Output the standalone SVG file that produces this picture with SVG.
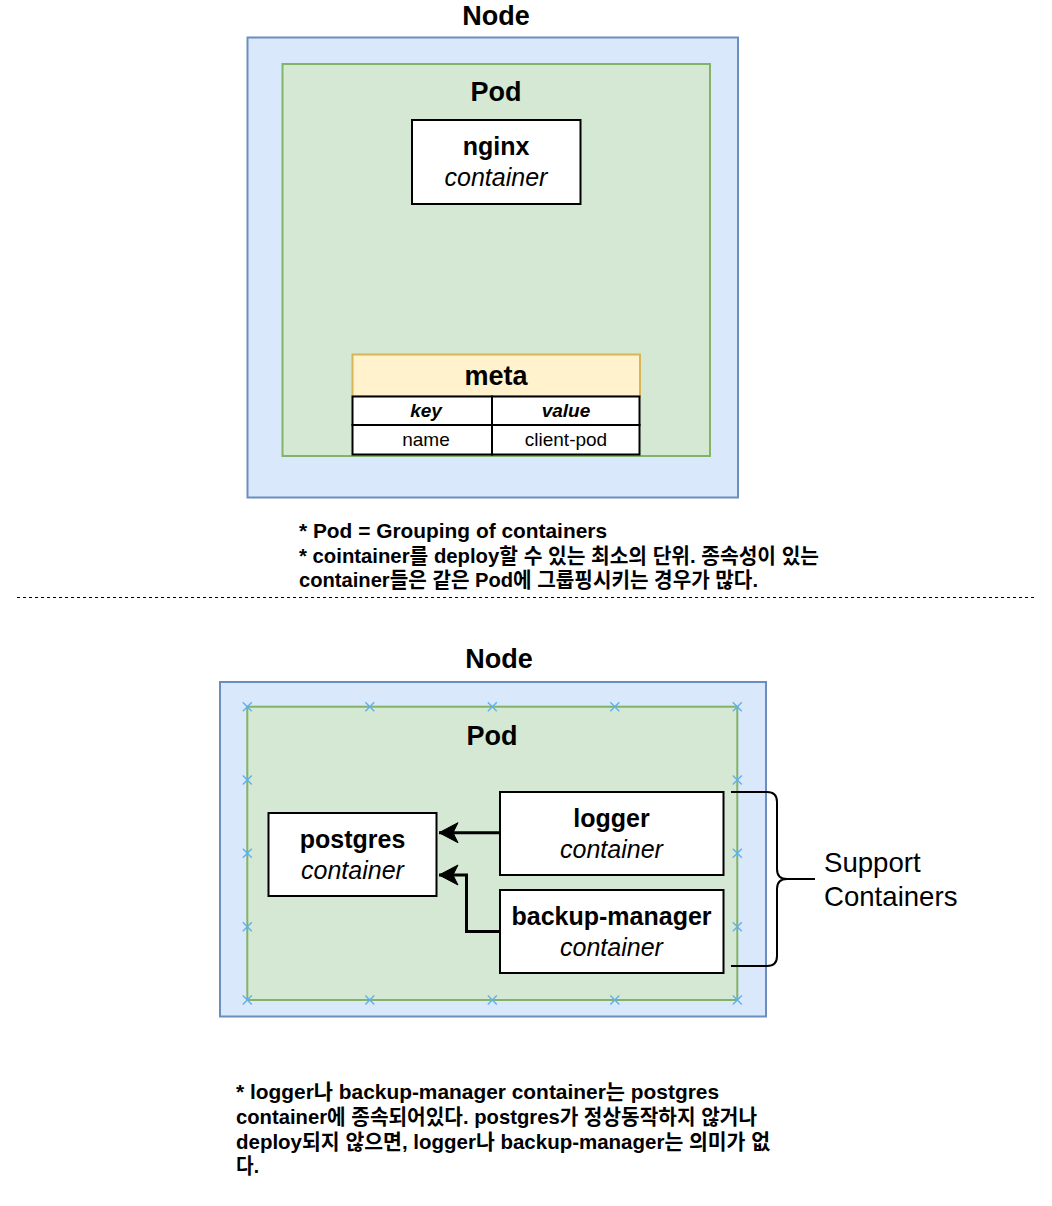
<svg xmlns="http://www.w3.org/2000/svg" width="1052" height="1206" viewBox="0 0 1052 1206">
<style>
  text { font-family: "Liberation Sans", "Noto Sans CJK KR", Arial, sans-serif; fill: #000; }
  .title { font-size: 27px; font-weight: bold; text-anchor: middle; }
  .cname { font-size: 25px; font-weight: bold; text-anchor: middle; }
  .ctype { font-size: 25px; font-style: italic; text-anchor: middle; }
  .cell { font-size: 19px; text-anchor: middle; }
  .hcell { font-size: 19px; font-weight: bold; font-style: italic; text-anchor: middle; }
  .note { font-size: 21px; font-weight: bold; }
  .plain { font-size: 27.6px; }
  .node { fill: #dae8fc; stroke: #6c8ebf; stroke-width: 2; }
  .pod { fill: #d5e8d4; stroke: #82b366; stroke-width: 2; }
  .box { fill: #ffffff; stroke: #000000; stroke-width: 2; }
  .conn { fill: none; stroke: #000; stroke-width: 3; }
  .pt { fill: none; stroke: #5eb0ef; stroke-width: 1.4; }
</style>
<defs>
  <marker id="arrow" markerUnits="userSpaceOnUse" markerWidth="22" markerHeight="24" viewBox="0 0 22 24" refX="20" refY="12" orient="auto">
    <path d="M20,12 L1,2 L6,12 L1,22 Z" fill="#000" stroke="#000" stroke-width="1"/>
  </marker>
  <path id="x" class="pt" d="M-4.5,-4.5 L4.5,4.5 M-4.5,4.5 L4.5,-4.5"/>
</defs>

<!-- Top section -->
<g id="node1">
  <rect class="node" x="247.5" y="37.5" width="490.5" height="460"/>
  <text class="title" x="496" y="25">Node</text>
</g>
<g id="pod1">
  <rect class="pod" x="282.5" y="64" width="427.5" height="392"/>
  <text class="title" x="496" y="100.5">Pod</text>
</g>
<g id="nginx">
  <rect class="box" x="412" y="120" width="168.5" height="84"/>
  <text class="cname" x="496" y="155">nginx</text>
  <text class="ctype" x="496" y="185.5">container</text>
</g>
<g id="meta">
  <rect x="352.5" y="354.5" width="287.5" height="42" fill="#fff2cc" stroke="#d6b656" stroke-width="2"/>
  <text class="title" x="496" y="385">meta</text>
  <rect class="box" x="352.5" y="396.5" width="139.5" height="28.5"/>
  <rect class="box" x="492" y="396.5" width="147.5" height="28.5"/>
  <rect class="box" x="352.5" y="425" width="139.5" height="29.5"/>
  <rect class="box" x="492" y="425" width="147.5" height="29.5"/>
  <text class="hcell" x="426" y="417">key</text>
  <text class="hcell" x="566" y="417">value</text>
  <text class="cell" x="426" y="446">name</text>
  <text class="cell" x="566" y="446">client-pod</text>
</g>
<g id="note1">
  <text class="note" x="299" y="538" textLength="308" lengthAdjust="spacingAndGlyphs">* Pod = Grouping of containers</text>
  <text class="note" x="299" y="562.5" textLength="520" lengthAdjust="spacingAndGlyphs">* cointainer를 deploy할 수 있는 최소의 단위. 종속성이 있는</text>
  <text class="note" x="299" y="587" textLength="459" lengthAdjust="spacingAndGlyphs">container들은 같은 Pod에 그룹핑시키는 경우가 많다.</text>
</g>

<g id="separator">
  <line x1="17" y1="597.5" x2="1037" y2="597.5" stroke="#000" stroke-width="1" stroke-dasharray="3 3"/>
</g>

<!-- Bottom section -->
<g id="node2">
  <rect class="node" x="220" y="682" width="546" height="334.5"/>
  <text class="title" x="499" y="668">Node</text>
</g>
<g id="pod2">
  <rect class="pod" x="247.3" y="706.7" width="490" height="293.3"/>
  <text class="title" x="492" y="745">Pod</text>
  <use href="#x" x="247.3" y="706.7"/>
  <use href="#x" x="369.8" y="706.7"/>
  <use href="#x" x="492.3" y="706.7"/>
  <use href="#x" x="614.8" y="706.7"/>
  <use href="#x" x="737.3" y="706.7"/>
  <use href="#x" x="247.3" y="1000"/>
  <use href="#x" x="369.8" y="1000"/>
  <use href="#x" x="492.3" y="1000"/>
  <use href="#x" x="614.8" y="1000"/>
  <use href="#x" x="737.3" y="1000"/>
  <use href="#x" x="247.3" y="780"/>
  <use href="#x" x="247.3" y="853.3"/>
  <use href="#x" x="247.3" y="926.7"/>
  <use href="#x" x="737.3" y="780"/>
  <use href="#x" x="737.3" y="853.3"/>
  <use href="#x" x="737.3" y="926.7"/>
</g>
<g id="postgres">
  <rect class="box" x="268.5" y="813" width="168" height="83"/>
  <text class="cname" x="352.5" y="848">postgres</text>
  <text class="ctype" x="352.5" y="879">container</text>
</g>
<g id="logger">
  <rect class="box" x="500" y="792" width="223.5" height="83"/>
  <text class="cname" x="611.5" y="827">logger</text>
  <text class="ctype" x="611.5" y="858">container</text>
</g>
<g id="backup-manager">
  <rect class="box" x="500" y="890" width="223.5" height="83"/>
  <text class="cname" x="611.5" y="925">backup-manager</text>
  <text class="ctype" x="611.5" y="956">container</text>
</g>
<g id="connectors">
  <path class="conn" d="M499,832.7 H439" marker-end="url(#arrow)"/>
  <path class="conn" d="M499,931.5 H466.5 V875 H439" marker-end="url(#arrow)"/>
  <path d="M731,792 H767 Q777,792 777,802 V869 Q777,879 787,879 H815 M787,879 Q777,879 777,889 V956 Q777,966 767,966 H731" fill="none" stroke="#000" stroke-width="2"/>
</g>
<g id="support-label">
  <text class="plain" x="824" y="872">Support</text>
  <text class="plain" x="824" y="906">Containers</text>
</g>
<g id="note2">
  <text class="note" x="236" y="1099" textLength="483" lengthAdjust="spacingAndGlyphs">* logger나 backup-manager container는 postgres</text>
  <text class="note" x="236" y="1124" textLength="521" lengthAdjust="spacingAndGlyphs">container에 종속되어있다. postgres가 정상동작하지 않거나</text>
  <text class="note" x="236" y="1148.5" textLength="534" lengthAdjust="spacingAndGlyphs">deploy되지 않으면, logger나 backup-manager는 의미가 없</text>
  <text class="note" x="236" y="1173" textLength="23" lengthAdjust="spacingAndGlyphs">다.</text>
</g>
</svg>
